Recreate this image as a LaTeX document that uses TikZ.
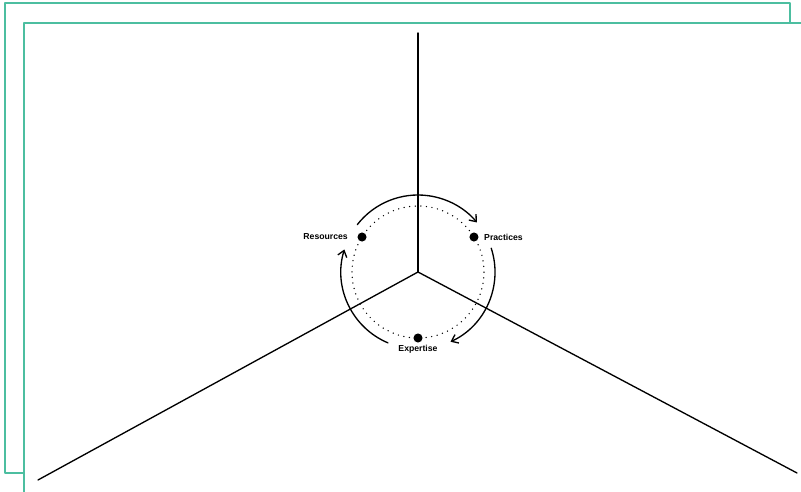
\documentclass[tikz,border=0pt]{standalone}
\usepackage{fontspec}
\setsansfont{Liberation Sans}
\usepackage{tikz}
\usetikzlibrary{calc,arrows.meta}

\definecolor{frameteal}{RGB}{76,190,160}

\begin{document}
\begin{tikzpicture}[x=0.75pt, y=0.75pt, line cap=round, line join=round,
    >={Straight Barb[length=4.5pt,width=7pt]},
    axis/.style={line width=1pt},
    cycarc/.style={->, line width=1pt},
    pt/.style={circle, fill=black, inner sep=0pt, minimum size=6.8pt},
    lbl/.style={font=\sffamily\bfseries\fontsize{6.5}{8}\selectfont, inner sep=1pt}]
    \useasboundingbox (0,0) rectangle (801,492);
    \coordinate (O) at (418,220);
    \coordinate (T) at (418,459);
    \coordinate (L) at (38,12);
    \coordinate (R) at (797,19);

    % frames
    \draw[frameteal, line width=1.2pt] (5,19) rectangle (790,489);
    \fill[white] (24,0) rectangle (801,469);
    \draw[frameteal, line width=1.2pt] (24,0) |- (801,469);

    \draw[axis] (O) -- (T);
    \draw[axis] (O) -- (L);
    \draw[axis] (O) -- (R);

    \draw[line width=1.1pt, dash pattern=on 0pt off 4.2pt] (O) circle (66);

    \draw[cycarc] ($(O)+(142:77)$) arc[start angle=142, end angle=40, radius=77];
    \draw[cycarc] ($(O)+(18:77)$) arc[start angle=18, end angle=-65, radius=77];
    \draw[cycarc] ($(O)+(-113:77)$) arc[start angle=-113, end angle=-197, radius=77];

    \node[pt] (res) at ($(O)+(148:66)$) {};
    \node[pt] (pra) at ($(O)+(32:66)$) {};
    \node[pt] (exp) at ($(O)+(270:66)$) {};

    \node[lbl, left=9.5pt] (reslbl) at (res) {Resources};
    \node[lbl, right=6.5pt] (pralbl) at (pra) {Practices};
    \node[lbl, below=4pt] (explbl) at (exp) {Expertise};
\end{tikzpicture}
\end{document}
